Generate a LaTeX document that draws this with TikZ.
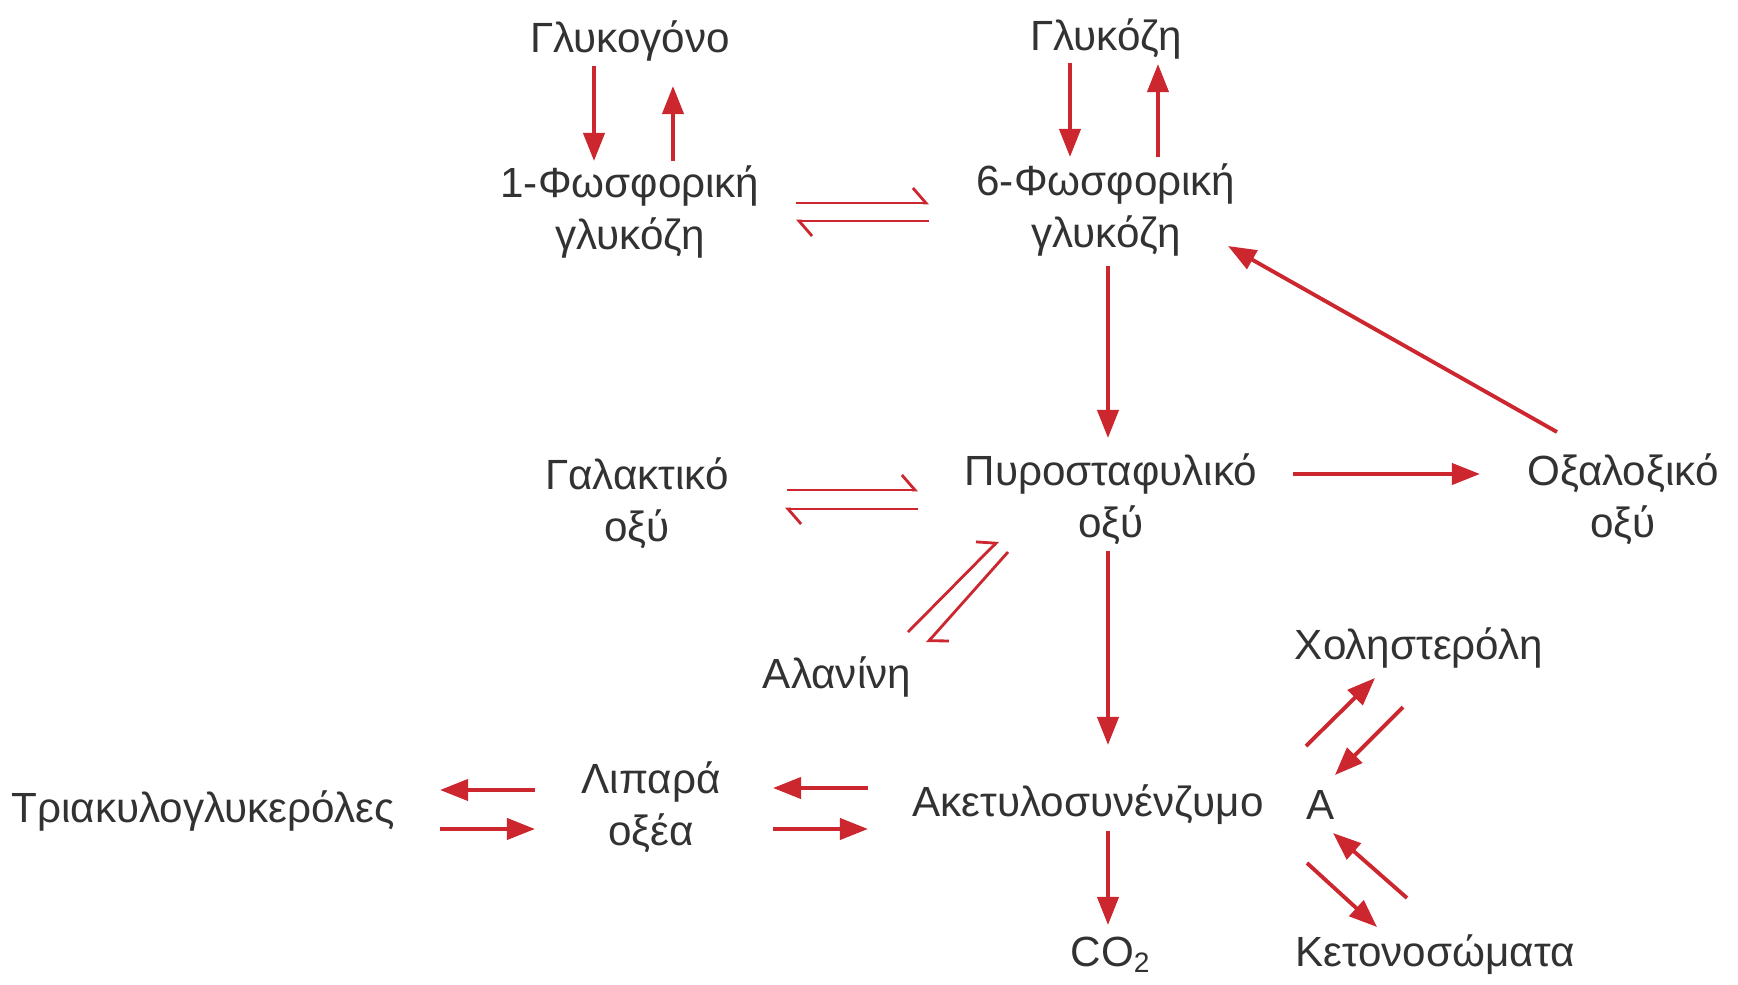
\documentclass[tikz,border=0pt]{standalone}
\usepackage{fontspec}
\setmainfont{Liberation Sans}
\usetikzlibrary{arrows.meta}
\definecolor{pathred}{RGB}{204,38,46}
\definecolor{txtgray}{RGB}{50,50,50}
\tikzset{>={Triangle[length=2.8mm, width=2.1mm]}}
\tikzset{
  metab/.style={align=center, inner sep=0pt, text=txtgray,
    font=\fontsize{12}{14.8}\selectfont},
  react/.style={->, pathred, line width=1.1pt},
  equil/.style={-{Straight Barb[harpoon, length=1.3mm, width=3mm]}, pathred, line width=0.8pt}
}

\begin{document}
\begin{tikzpicture}[x=0.01cm, y=-0.01cm]
  \useasboundingbox (0,0) rectangle (1738,984); %
  % metabolites
  \node[metab] (glyc) at (630,41) {Γλυκογόνο}; %
  \node[metab] (glc) at (1106,39) {Γλυκόζη}; %
  \node[metab] (g1p) at (630,212) {1-Φωσφορική\\γλυκόζη}; %
  \node[metab] (g6p) at (1106,210) {6-Φωσφορική\\γλυκόζη}; %
  \node[metab] (lact) at (637,503) {Γαλακτικό\\οξύ}; %
  \node[metab] (pyr) at (1111,499) {Πυροσταφυλικό\\οξύ}; %
  \node[metab] (oxa) at (1623,499) {Οξαλοξικό\\οξύ}; %
  \node[metab] (ala) at (837,677) {Αλανίνη}; %
  \node[metab] (acoa) at (1088,805) {Ακετυλοσυνένζυμο}; %
  \node[metab] (acoaA) at (1321,805) {Α}; %
  \node[metab] (fa) at (651,807) {Λιπαρά\\οξέα}; %
  \node[metab] (tag) at (203,811) {Τριακυλογλυκερόλες}; %
  \node[metab] (co2) at (1111,955) {CO\textsubscript{2}}; %
  \node[metab] (chol) at (1419,648) {Χοληστερόλη}; %
  \node[metab] (keto) at (1435,955) {Κετονοσώματα}; %
  % glycogen and glucose
  \draw[react] ([shift={(-36,25)}]glyc.center) -- ([shift={(-36,-51)}]g1p.center); %
  \draw[react] ([shift={(43,-51)}]g1p.center) -- ([shift={(43,45)}]glyc.center); %
  \draw[react] ([shift={(-36,24)}]glc.center) -- ([shift={(-36,-53)}]g6p.center); %
  \draw[react] ([shift={(52,-53)}]g6p.center) -- ([shift={(52,25)}]glc.center); %
  \draw[equil] ([shift={(166,-9)}]g1p.center) -- ([shift={(-177,-7)}]g6p.center); %
  \draw[equil] ([shift={(-177,11)}]g6p.center) -- ([shift={(166,9)}]g1p.center); %
  % pyruvate
  \draw[react] ([shift={(2,56)}]g6p.center) -- ([shift={(-3,-61)}]pyr.center); %
  \draw[react] ([shift={(182,-25)}]pyr.center) -- ([shift={(-143,-25)}]oxa.center); %
  \draw[react] ([shift={(-66,-67)}]oxa.center) -- ([shift={(122,36)}]g6p.center); %
  \draw[equil] ([shift={(150,-13)}]lact.center) -- ([shift={(-193,-9)}]pyr.center); %
  \draw[equil] ([shift={(-193,10)}]pyr.center) -- ([shift={(148,6)}]lact.center); %
  \draw[equil] ([shift={(71,-45)}]ala.center) -- ([shift={(-113,42)}]pyr.center); %
  \draw[equil] ([shift={(-103,53)}]pyr.center) -- ([shift={(90,-34)}]ala.center); %
  \draw[react] ([shift={(-3,52)}]pyr.center) -- ([shift={(20,-60)}]acoa.center); %
  % acetyl-CoA
  \draw[react] ([shift={(20,26)}]acoa.center) -- ([shift={(-3,-30)}]co2.center); %
  \draw[react] ([shift={(-116,-17)}]fa.center) -- ([shift={(237,-21)}]tag.center); %
  \draw[react] ([shift={(237,18)}]tag.center) -- ([shift={(-116,22)}]fa.center); %
  \draw[react] ([shift={(-220,-17)}]acoa.center) -- ([shift={(122,-19)}]fa.center); %
  \draw[react] ([shift={(122,22)}]fa.center) -- ([shift={(-220,24)}]acoa.center); %
  \draw[react] ([shift={(-15,-59)}]acoaA.center) -- ([shift={(-44,30)}]chol.center); %
  \draw[react] ([shift={(-16,59)}]chol.center) -- ([shift={(14,-30)}]acoaA.center); %
  \draw[react] ([shift={(-28,-57)}]keto.center) -- ([shift={(12,28)}]acoaA.center); %
  \draw[react] ([shift={(-14,58)}]acoaA.center) -- ([shift={(-58,-28)}]keto.center); %
\end{tikzpicture}
\end{document}
